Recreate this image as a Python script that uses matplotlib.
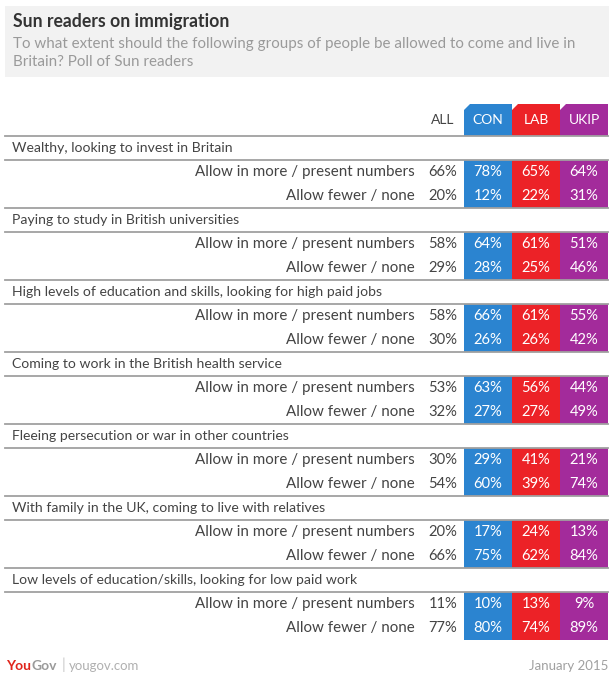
import matplotlib.pyplot as plt
from matplotlib.patches import Rectangle, Polygon

plt.rcParams['font.family'] = ['Lato', 'DejaVu Sans']

title = "Sun readers on immigration"
subtitle = ["To what extent should the following groups of people be allowed to come and live in",
            "Britain? Poll of Sun readers"]

groups = ["Wealthy, looking to invest in Britain",
          "Paying to study in British universities",
          "High levels of education and skills, looking for high paid jobs",
          "Coming to work in the British health service",
          "Fleeing persecution or war in other countries",
          "With family in the UK, coming to live with relatives",
          "Low levels of education/skills, looking for low paid work"]
answers = ["Allow in more / present numbers", "Allow fewer / none"]

parties = ["CON", "LAB", "UKIP"]
party_colors = ["#2b84d0", "#ec2227", "#a32b9b"]

all_vals = [[66, 20], [58, 29], [58, 30], [53, 32], [30, 54], [20, 66], [11, 77]]
con_vals = [[78, 12], [64, 28], [66, 26], [63, 27], [29, 60], [17, 75], [10, 80]]
lab_vals = [[65, 22], [61, 25], [61, 26], [56, 27], [41, 39], [24, 62], [13, 74]]
ukip_vals = [[64, 31], [51, 46], [55, 42], [44, 49], [21, 74], [13, 84], [9, 89]]
party_vals = [con_vals, lab_vals, ukip_vals]

# layout in pixels
W, H = 614, 680
fig = plt.figure(figsize=(W / 100, H / 100), dpi=100)
ax = fig.add_axes([0, 0, 1, 1])
ax.set_xlim(0, W)
ax.set_ylim(H, 0)
ax.axis('off')

txt = "#444444"
grey = "#9a9a9a"
line_c = "#a0a0a0"

# title box
ax.add_patch(Rectangle((5, 6), 604, 71, facecolor="#f2f2f2", edgecolor="none"))
ax.text(13, 22, title, fontsize=12.7, fontweight='bold', color="#333333", va='center')
for i, s in enumerate(subtitle):
    ax.text(13, 44 + i * 18, s, fontsize=10.9, color=grey, va='center')

col_x0 = 464
col_w = 48
all_x = 443
label_right = 415

# header
ax.text(all_x, 120, "ALL", fontsize=10, color=txt, ha='center', va='center')
top, bot, cut = 104, 136, 6
for j, (p, c) in enumerate(zip(parties, party_colors)):
    x0 = col_x0 + j * col_w
    x1 = x0 + col_w
    ax.add_patch(Polygon([(x0, bot), (x0, top + cut), (x0 + cut, top), (x1, top), (x1, bot)],
                         closed=True, facecolor=c, edgecolor="none"))
    ax.text(x0 + col_w / 2, 120, p, fontsize=10, color="white", ha='center', va='center')

ax.plot([5, 608], [136, 136], color=line_c, lw=1.3, zorder=5)

block = 72
for g, name in enumerate(groups):
    y0 = 136 + g * block
    ax.text(12, y0 + 12, name, fontsize=10.1, color=txt, va='center')
    ax.plot([5, 608], [y0 + 24, y0 + 24], color=line_c, lw=1.3, zorder=5)
    for j, c in enumerate(party_colors):
        ax.add_patch(Rectangle((col_x0 + j * col_w, y0 + 24), col_w, 48,
                               facecolor=c, edgecolor="none"))
    for r, ans in enumerate(answers):
        yr = y0 + 36 + r * 24
        ax.text(label_right, yr, ans, fontsize=10.9, color=txt, ha='right', va='center')
        ax.text(all_x, yr, f"{all_vals[g][r]}%", fontsize=10.6, color=txt, ha='center', va='center')
        for j in range(len(parties)):
            ax.text(col_x0 + j * col_w + col_w / 2, yr, f"{party_vals[j][g][r]}%",
                    fontsize=10.6, color="white", ha='center', va='center')
    if g < len(groups) - 1:
        ax.plot([5, 608], [y0 + block, y0 + block], color=line_c, lw=1.3, zorder=5)

# footer
t = ax.text(6, 666, "You", fontsize=10, fontweight='bold', color="#e0251b", va='center')
fig.canvas.draw()
bb = t.get_window_extent()
xg = bb.x1
t2 = ax.text(xg, 666, "Gov", fontsize=10, fontweight='bold', color="#9a9a9a", va='center')
ax.text(62, 665, "|", fontsize=11, color="#c8c8c8", va='center')
ax.text(69, 666, "yougov.com", fontsize=9.5, color="#b0b0b0", va='center')
ax.text(608, 666, "January 2015", fontsize=9.5, color="#a0a0a0", ha='right', va='center')

fig.savefig("out.png", dpi=100)
